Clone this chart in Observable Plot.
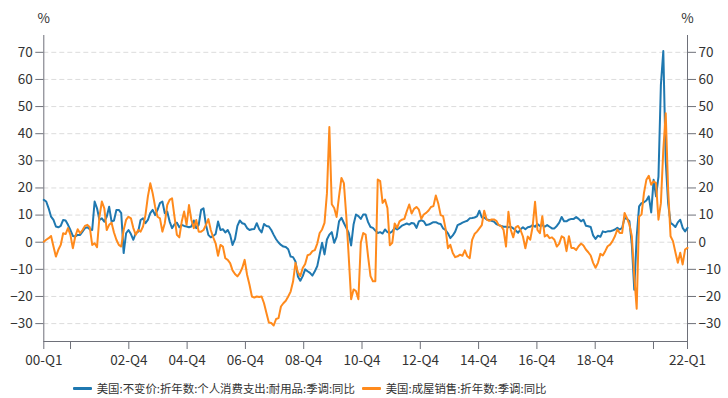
<!DOCTYPE html>
<html><head><meta charset="utf-8">
<script src="https://cdn.jsdelivr.net/npm/d3@7"></script>
<script src="https://cdn.jsdelivr.net/npm/@observablehq/plot@0.6"></script>
<style>
body{margin:0;background:#fff;font-family:"Noto Sans CJK SC","Noto Sans",sans-serif;}
#wrap{width:728px;height:398px;position:relative;overflow:hidden}
#chart svg{display:block}
.leg{position:absolute;top:380px;height:16px;display:flex;align-items:center;font-size:11.4px;color:#333;white-space:nowrap}
.sw{width:19px;height:3px;margin-right:5px;border-radius:1px}
</style></head><body><div id="wrap"><div id="chart"></div></div>
<script>
// monthly series, Jan 2000 .. early 2022
const seriesNames = ["美国:不变价:折年数:个人消费支出:耐用品:季调:同比", "美国:成屋销售:折年数:季调:同比"];
const seriesColors = ["#1f78b0", "#ff8a1c"];

const durableGoods = [
15.6,15,12.5,9.4,8.2,5.8,5.5,6,8.2,8,
6.4,4.5,2.3,2.1,2.7,2.7,3.9,5.2,5.5,4.8,
4.5,15,12.5,8.2,8.8,7.6,9.4,13.1,7.6,8,
11.9,11.9,10.7,-4,3.3,4.5,3,0.9,3.3,3.9,
8.2,8.8,7,8.2,10.7,11.9,10,11.9,14.4,15,
10.7,11.3,7.6,5.2,6.6,7.2,5.5,6.4,6,5.8,
5.5,5.8,8,5.2,6.4,11.9,12.5,6.4,2.7,1.8,
2.3,3,7.6,4.5,4.8,3.6,4.5,2.7,-1,1.1,
6,8,7,6.7,5.2,4.5,4.8,4.9,7,4.8,
3.6,6.7,6,5.8,4.5,2.7,1.1,-0.1,-1,-1.6,
-1.8,-2.6,-5.3,-5.5,-7.1,-12.6,-14.2,-12.5,-10,-10.7,
-11.3,-12.3,-10.7,-8.8,-4.5,-0.2,-4.5,1,2.8,3.7,
-0.2,2,7.7,9,7.1,5.3,3.4,-1.2,6.5,10.2,
9.6,8.6,10.2,10.2,7.4,5.6,5.3,4.3,3.4,3.7,
3.2,4.7,3.7,3.4,4,5.3,4.7,5.3,6.1,6.5,
6.9,6.5,7.1,6.9,5.3,7.7,8.1,7.7,6.3,6.5,
6.9,7.4,7.4,6.9,6.7,5.1,4.5,3.3,1.5,2.5,
3.9,6.3,6.7,7.2,7.6,7.9,8.8,8.9,9.1,9.5,
11.6,9.1,9.1,8.4,8.2,7.9,7.6,6.7,6.3,6,
5.7,5.7,5.5,5.7,5.1,4.3,3.5,4.8,5.5,4.8,
5.5,5.7,6.3,5.7,6.7,6,6.3,5.7,6.3,5.7,
5.1,5.1,6,7.2,9.3,7.7,7.7,8.3,8.6,8.6,
9.3,8.6,7.7,8.3,6.1,5.9,5.6,2.5,1.2,2.4,
2,4,3.7,4,4,4.3,4.7,5.3,4.7,5.3,
8.9,8.6,7.7,-0.9,-17.5,2,13.2,14.4,14.7,15.4,
16.9,11,23,16.9,24.2,58,70.5,30,14.4,7.1,
6.5,5.6,7.3,8.3,5.3,4,5.3
];

const homeSales = [
0.2,0.9,1.5,2.3,-1.6,-5.3,-2.8,-1,3.3,3,
5.2,2.7,-2.2,2.1,4.8,3.3,4.5,6,6.4,5.5,
-1,-0.4,-1.8,9.4,15,12.5,4.5,6.4,7.2,3.6,
0.9,-1,-1.6,4.5,8.2,9.4,8.8,5.2,2.7,4.5,
3.9,5.8,10,16.8,21.7,18,13.1,9.4,8.8,3.9,
7,13.7,15.6,16.2,9.4,2.7,1.8,7.6,11.3,6.4,
13.7,8.2,5.2,8.2,3.9,3.9,4.5,6.4,8.5,4.5,
1.8,-0.4,-5,-1,-1.6,-5.9,-6.5,-7.7,-10.4,-11.7,
-12.6,-11.4,-9.5,-6.5,-12,-15.7,-20,-20.4,-20,-20.2,
-20,-22.5,-26.1,-29.6,-29.8,-30.7,-28.3,-28,-23.7,-22.5,
-21.6,-20,-18.2,-14.5,-7.7,-11.1,-12.5,-9.5,-8,-4.8,
-4.5,-3.3,-2.9,-0.5,3.4,4.7,7.1,18,42.5,14,
12.6,9.3,16.9,23.7,21.8,9.6,-5.2,-21,-17.4,-18,
-21,-0.2,3.4,2.8,-5.2,-12.5,-14.4,-14.4,23.1,22.5,
14.5,15.7,12.6,-1.1,-0.2,6.9,5.3,7.7,8.3,8.6,
11.4,13.9,10.6,12.3,13,12,8.6,10.2,10.8,11.7,
13,13.3,17.2,14.3,10,9.6,5.1,-2.2,-1,-4,
-5.5,-5.2,-4.6,-5,-3,-5.2,-5.9,0.9,3,3.9,
5.1,6.3,11.6,8.4,7.9,8.4,8.4,7.9,6.3,6,
4.5,-1.6,11.2,4.5,1.8,5.5,6,4.5,2.1,-2.2,
2.1,0.9,5.7,14.9,4.5,3.3,9.6,2.1,2.7,1.5,
1.8,0.9,-1.6,-0.5,2.2,1.6,-3.3,2.2,-2.1,-2.1,
-2.9,-1.5,-0.5,-1.2,-2.7,-3.7,-4.9,-7.6,-9.4,-7.6,
-4.3,-4.9,-3.3,-1.5,-0.9,0.4,2.2,4.7,3.4,3.4,
10.8,8.9,6.5,2.2,-12.5,-24.5,9.5,10.2,18.1,23,
24.5,21.2,22.4,21.8,8.3,14.4,34,47.5,19.3,2.2,
0.4,-3.7,-7.6,-3.9,-8.2,-2.7,-2.1
];

// x-axis ticks (month index from Jan 2000) and their labels
const xTickMonths = [0, 11, 35, 59, 83, 107, 131, 155, 179, 203, 227, 251, 265];
const xTickLabels = ["00-Q1", "", "02-Q4", "04-Q4", "06-Q4", "08-Q4", "10-Q4", "12-Q4", "14-Q4", "16-Q4", "18-Q4", "", "22-Q1"];
const yTicks = [-30, -20, -10, 0, 10, 20, 30, 40, 50, 60, 70];
const yDomain = [-36.6, 76.2];

const n = durableGoods.length;
const xDomain = [0, n - 1];
const scaleK = (n - 1) / xTickMonths[xTickMonths.length - 1];
const xTicks = xTickMonths.map(m => m * scaleK);
const labelMap = new Map(xTicks.map((t, i) => [t, xTickLabels[i]]));

const axisColor = "#6e7079";
const textColor = "#333";

const chart = Plot.plot({
  width: 728,
  height: 372,
  marginLeft: 43.3,
  marginRight: 41,
  marginTop: 35,
  marginBottom: 31,
  style: {fontFamily: '"Noto Sans CJK SC","Noto Sans",sans-serif', fontSize: "13px", color: textColor, background: "#fff", overflow: "visible"},
  x: {domain: xDomain},
  y: {domain: yDomain},
  marks: [
    Plot.gridY(yTicks, {stroke: "#dcdcdc", strokeOpacity: 1, strokeDasharray: "5,3"}),
    Plot.axisY(yTicks, {anchor: "left", tickSize: 8, tickPadding: 3, stroke: axisColor, fill: textColor, label: null, fontSize: 13.5}),
    Plot.axisY(yTicks, {anchor: "right", tickSize: 8, tickPadding: 3, stroke: axisColor, fill: textColor, label: null, fontSize: 13.5}),
    Plot.axisX(xTicks, {anchor: "bottom", tickSize: 8, tickPadding: 6, stroke: axisColor, fill: textColor, label: null, fontSize: 13.5, tickFormat: d => labelMap.get(d)}),
    Plot.ruleX([xDomain[0], xDomain[1]], {stroke: axisColor, strokeWidth: 1}),
    Plot.ruleY([yDomain[0]], {stroke: axisColor, strokeWidth: 1}),
    Plot.text(["%"], {frameAnchor: "top-left", textAnchor: "middle", lineAnchor: "middle", dy: -17, fill: textColor, fontSize: 13.5}),
    Plot.text(["%"], {frameAnchor: "top-right", textAnchor: "middle", lineAnchor: "middle", dy: -17, fill: textColor, fontSize: 13.5}),
    Plot.lineY(durableGoods, {x: (d, i) => i, y: d => d, stroke: seriesColors[0], strokeWidth: 2}),
    Plot.lineY(homeSales, {x: (d, i) => i, y: d => d, stroke: seriesColors[1], strokeWidth: 2})
  ]
});
document.getElementById("chart").appendChild(chart);

// legend
const legendLefts = [72.7, 361.7];
const wrap = document.getElementById("wrap");
seriesNames.forEach((name, i) => {
  const item = document.createElement("div");
  item.className = "leg";
  item.style.left = legendLefts[i] + "px";
  const sw = document.createElement("div");
  sw.className = "sw";
  sw.style.background = seriesColors[i];
  const tx = document.createElement("span");
  tx.textContent = name;
  item.appendChild(sw);
  item.appendChild(tx);
  wrap.appendChild(item);
});
</script></body></html>
